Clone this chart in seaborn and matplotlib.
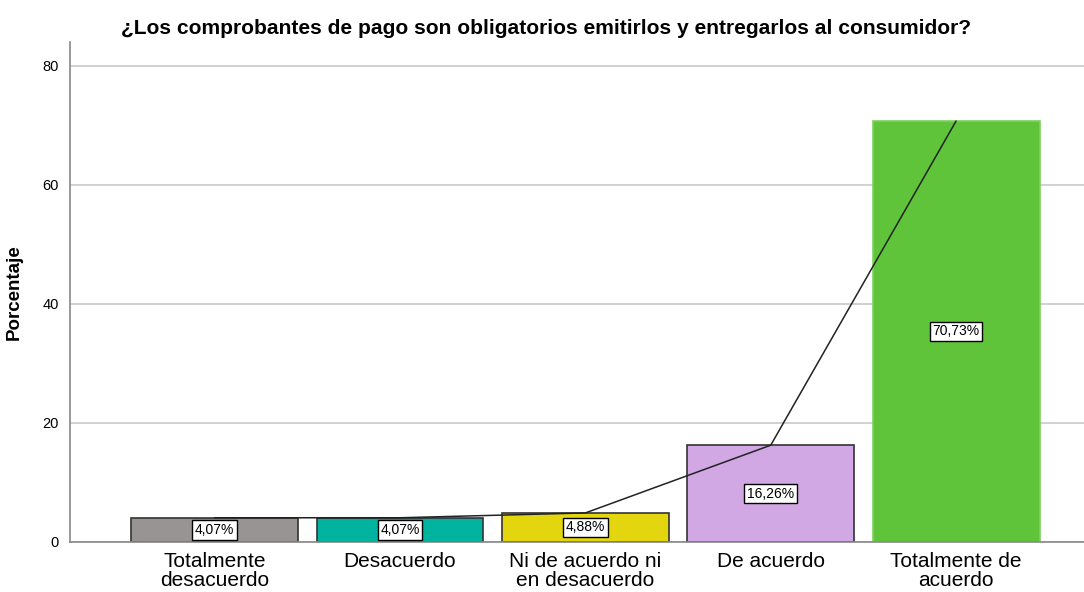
import seaborn as sns
import matplotlib.pyplot as plt
import pandas as pd
import numpy as np

sns.set_style("white")
plt.rcParams['font.family'] = ['Liberation Sans', 'DejaVu Sans']

categories = ["Totalmente\ndesacuerdo", "Desacuerdo", "Ni de acuerdo ni\nen desacuerdo",
              "De acuerdo", "Totalmente de\nacuerdo"]
percent = [4.07, 4.07, 4.88, 16.26, 70.73]
labels = ["4,07%", "4,07%", "4,88%", "16,26%", "70,73%"]
colors = ["#989493", "#00b39f", "#e3d60f", "#d1a8e3", "#5fc43a"]
edges = ["#333333", "#333333", "#333333", "#333333", "#7fd060"]

df = pd.DataFrame({"cat": categories, "pct": percent})

fig = plt.figure(figsize=(10.84, 5.92), dpi=100)
ax = fig.add_axes([0.0646, 0.0845, 0.9354, 0.8445])

sns.barplot(data=df, x="cat", y="pct", hue="cat", palette=colors, legend=False,
            saturation=1, width=0.9, linewidth=1.2, ax=ax, zorder=2)
for patch, ec in zip(ax.patches, edges):
    patch.set_edgecolor(ec)

# line connecting bar tops
sns.lineplot(x=np.arange(len(percent)), y=percent, color="#222222", linewidth=1.1,
             ax=ax, zorder=3)

for i, (v, lab) in enumerate(zip(percent, labels)):
    ax.text(i, v / 2, lab, ha="center", va="center", fontsize=10, color="black", zorder=4,
            bbox=dict(boxstyle="square,pad=0.2", fc="white", ec="black", lw=1))

ax.set_xlim(-0.78, 4.69)
ax.set_ylim(0, 84)
ax.set_yticks([0, 20, 40, 60, 80])
ax.yaxis.grid(True, color="#d0d0d0", linewidth=1.4, zorder=0)
ax.set_axisbelow(True)
ax.tick_params(axis="y", labelsize=10.5, length=0, pad=8, labelcolor="black")
ax.tick_params(axis="x", labelsize=15, length=0, pad=7, labelcolor="black")
for lab in ax.get_xticklabels():
    lab.set_linespacing(1.02)

ax.set_xlabel("")
ax.set_ylabel("Porcentaje", fontsize=13.5, fontweight="bold", labelpad=14, color="black")
for s in ["top", "right"]:
    ax.spines[s].set_visible(False)
for s in ["left", "bottom"]:
    ax.spines[s].set_color("#888888")
    ax.spines[s].set_linewidth(1.2)

fig.text(0.504, 0.952, "¿Los comprobantes de pago son obligatorios emitirlos y entregarlos al consumidor?",
         ha="center", va="center", fontsize=15.1, fontweight="bold", color="black")

plt.savefig("out.png", dpi=100)
plt.close(fig)
